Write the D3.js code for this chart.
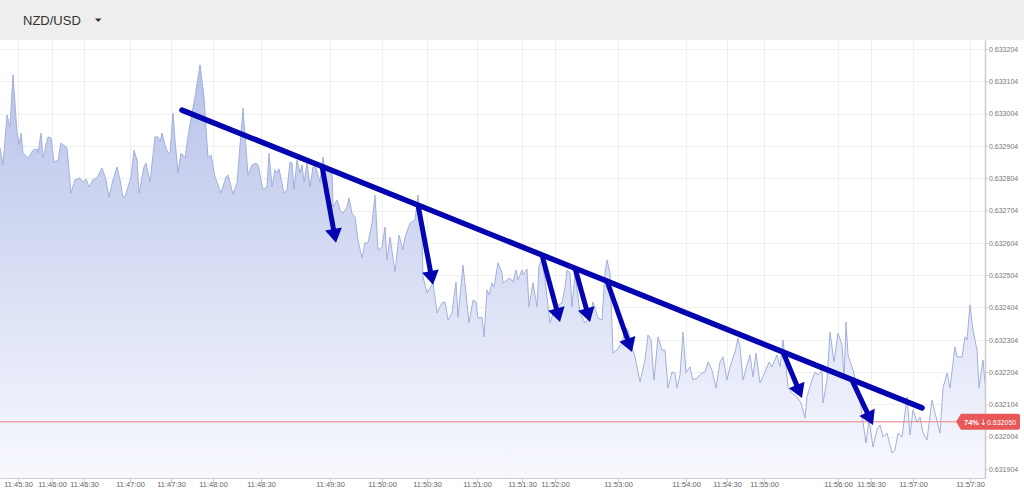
<!DOCTYPE html>
<html>
<head>
<meta charset="utf-8">
<script src="https://cdn.jsdelivr.net/npm/d3@7"></script>
<style>
  html, body { margin: 0; padding: 0; background: #ffffff; }
  svg { display: block; font-family: "Liberation Sans", Arial, sans-serif; }
</style>
</head>
<body>
<svg id="chart" width="1024" height="495"></svg>
<script>
// ---------------- DATA ----------------
const symbol = "NZD/USD";

// tick sequence number (x) and price (y) of each quote
const quoteSeq = [0,3,7,10,13,17,19,21,23,28,33,37,38,41,43,48,51,54,58,61,67,71,75,80,83,86,89,93,97,102,106,109,113,117,120,123,125,131,134,137,139,144,146,150,155,158,160,162,165,168,170,173,175,178,181,185,189,195,200,204,208,211,215,221,226,228,233,237,243,248,252,256,
258,263,267,269,272,275,277,279,284,287,290,292,294,297,300,302,304,307,310,313,316,320,323,325,328,332,333,337,340,343,347,349,352,355,358,362,365,368,372,375,378,382,385,387,390,395,399,403,405,410,415,418,422,423,427,430,433,437,442,445,448,452,456,458,463,467,469,473,476,478,482,484,487,489,492,494,498,502,503,507,510,513,516,518,522,523,527,529,533,537,539,542,545,550,555,562,565,567,570,572,575,580,585,590,593,598,602,605,607,610,613,617,622,625,628,632,635,640,645,648,651,654,658,662,665,668,672,675,677,680,683,686,690,693,697,702,705,708,712,716,720,723,727,730,735,738,740,743,747,750,753,756,760,765,769,772,777,780,783,785,788,792,797,801,805,807,812,815,818,822,823,827,830,834,838,842,844,846,848,853,857,860,863,866,869,873,877,880,883,887,892,895,898,902,907,910,913,917,920,923,927,932,936,940,943,947,950,955,957,962,965,967,970,973,977,979,983,985];

const quotePrice = [0.632898,0.632845,0.633000,0.632963,0.633124,0.632944,0.632907,0.632944,0.632882,0.632867,0.632891,0.632895,0.632882,0.632944,0.632867,0.632932,0.632929,0.632854,0.632860,0.632913,0.632898,0.632758,0.632799,0.632805,0.632792,0.632802,0.632777,0.632799,0.632805,0.632836,0.632799,0.632746,0.632799,0.632839,0.632799,0.632746,0.632746,0.632808,0.632891,0.632860,0.632758,0.632839,0.632851,0.632792,0.632932,0.632932,0.632916,0.632944,0.632907,0.632882,0.632882,0.633006,0.632922,0.632820,0.632882,0.632867,0.632953,0.633056,0.633155,0.633056,0.632867,0.632876,0.632808,0.632758,0.632808,0.632814,0.632755,0.632789,0.633021,0.632814,0.632845,0.632851,
0.632845,0.632768,0.632777,0.632882,0.632777,0.632830,0.632820,0.632833,0.632758,0.632768,0.632854,0.632851,0.632768,0.632860,0.632820,0.632845,0.632792,0.632851,0.632777,0.632839,0.632836,0.632792,0.632870,0.632830,0.632830,0.632823,0.632715,0.632737,0.632706,0.632696,0.632715,0.632743,0.632696,0.632684,0.632613,0.632557,0.632604,0.632604,0.632665,0.632752,0.632582,0.632591,0.632653,0.632551,0.632622,0.632514,0.632628,0.632582,0.632622,0.632665,0.632675,0.632752,0.632634,0.632498,0.632449,0.632464,0.632480,0.632387,0.632418,0.632421,0.632365,0.632387,0.632483,0.632374,0.632535,0.632418,0.632356,0.632427,0.632421,0.632371,0.632374,0.632313,0.632458,0.632443,0.632480,0.632467,0.632542,0.632511,0.632480,0.632489,0.632495,0.632483,0.632520,0.632489,0.632520,0.632505,0.632523,0.632405,0.632480,0.632405,0.632535,0.632551,0.632489,0.632356,0.632405,0.632418,0.632467,0.632520,0.632511,0.632405,0.632511,0.632387,0.632356,0.632374,0.632421,0.632371,0.632365,0.632511,0.632551,0.632511,0.632263,0.632272,0.632294,0.632343,0.632334,0.632282,0.632251,0.632173,0.632241,0.632319,0.632303,0.632179,0.632313,0.632272,0.632272,0.632155,0.632204,0.632201,0.632155,0.632195,0.632328,0.632201,0.632220,0.632179,0.632186,0.632201,0.632204,0.632235,0.632210,0.632155,0.632235,0.632251,0.632179,0.632220,0.632266,0.632309,0.632282,0.632179,0.632226,0.632257,0.632189,0.632263,0.632170,0.632204,0.632235,0.632220,0.632257,0.632220,0.632303,0.632248,0.632158,0.632139,0.632127,0.632108,0.632062,0.632127,0.632179,0.632204,0.632195,0.632210,0.632108,0.632179,0.632328,0.632235,0.632325,0.632288,0.632186,0.632359,0.632257,0.632210,0.632158,0.632117,0.632049,0.631984,0.632056,0.631972,0.632025,0.632040,0.632003,0.632015,0.631953,0.631963,0.632015,0.632003,0.632127,0.632009,0.632087,0.632049,0.632065,0.632015,0.631994,0.632117,0.632065,0.632015,0.632155,0.632201,0.632155,0.632282,0.632251,0.632251,0.632313,0.632303,0.632412,0.632334,0.632272,0.632155,0.632241,0.632170];

// x axis: tick sequence positions and time labels
const timeTickSeq = [18,52,84,130,171,213,261,330,382,427,477,522,555,618,686,727,764,838,871,913,970];
const timeTickLabels = ["11:45:30","11:46:00","11:46:30","11:47:00","11:47:30","11:48:00","11:48:30","11:49:30","11:50:00","11:50:30","11:51:00","11:51:30","11:52:00","11:53:00","11:54:00","11:54:30","11:55:00","11:56:00","11:56:30","11:57:00","11:57:30"];

// y axis ticks
const priceTicks = [0.631904,0.632004,0.632104,0.632204,0.632304,0.632404,0.632504,0.632604,0.632704,0.632804,0.632904,0.633004,0.633104,0.633204];
const priceExtent = [0.631876, 0.633232];
const seqExtent = [0, 985];

// current price marker
const currentPrice = 0.632050;
const currentPct = "74%";

// hand-drawn annotation: trend line and arrows [seqFrom, priceFrom, seqTo, priceTo]
const trendLine = [182, 0.633015, 922, 0.632093];
const arrows = [
  [322, 0.632841, 336, 0.632604],
  [418, 0.632721, 433, 0.632474],
  [542, 0.632566, 560, 0.632359],
  [575, 0.632526, 590, 0.632359],
  [607, 0.632486, 632, 0.632266],
  [783, 0.632266, 802, 0.632124],
  [852, 0.632179, 873, 0.632040]
];

// ---------------- LAYOUT ----------------
const W = 1024, H = 495;
const headerH = 40;
const plot = { left: 0, right: 985, top: 40, bottom: 478 };
const svg = d3.select("#chart");

const x = d3.scaleLinear().domain(seqExtent).range([plot.left, plot.right]);
const y = d3.scaleLinear().domain(priceExtent).range([plot.bottom, plot.top]);

// header
svg.append("rect").attr("x", 0).attr("y", 0).attr("width", W).attr("height", headerH).attr("fill", "#eeeeee");
svg.append("text").attr("x", 23).attr("y", 25).attr("font-size", 13).attr("fill", "#333").text(symbol);
svg.append("path").attr("d", "M95,18.5 L101.5,18.5 L98.25,22 Z").attr("fill", "#333");

// gradient
const defs = svg.append("defs");
const grad = defs.append("linearGradient").attr("id", "areaGrad")
  .attr("gradientUnits", "userSpaceOnUse").attr("x1", 0).attr("x2", 0)
  .attr("y1", plot.top).attr("y2", plot.bottom);
grad.append("stop").attr("offset", "0%").attr("stop-color", "#b3bfe8");
grad.append("stop").attr("offset", "100%").attr("stop-color", "#f8f9fe");

// grid lines
const grid = svg.append("g");
grid.selectAll("line.h").data(priceTicks).join("line")
  .attr("x1", plot.left).attr("x2", plot.right)
  .attr("y1", d => Math.round(y(d)) + 0.5).attr("y2", d => Math.round(y(d)) + 0.5)
  .attr("stroke", "#efefef").attr("stroke-width", 1);
grid.selectAll("line.v").data(timeTickSeq).join("line")
  .attr("y1", plot.top).attr("y2", plot.bottom)
  .attr("x1", d => Math.round(x(d)) + 0.5).attr("x2", d => Math.round(x(d)) + 0.5)
  .attr("stroke", "#efefef").attr("stroke-width", 1);

// area + line
const quotes = quoteSeq.map((s, i) => ({ s, p: quotePrice[i] }));
const area = d3.area().x(d => x(d.s)).y0(plot.bottom).y1(d => y(d.p)).curve(d3.curveLinear);
const line = d3.line().x(d => x(d.s)).y(d => y(d.p)).curve(d3.curveLinear);
svg.append("path").datum(quotes).attr("d", area).attr("fill", "url(#areaGrad)");
svg.append("path").datum(quotes).attr("d", line).attr("fill", "none")
  .attr("stroke", "#a3b0dc").attr("stroke-width", 1);

// current price line
svg.append("line").attr("x1", plot.left).attr("x2", plot.right)
  .attr("y1", y(currentPrice)).attr("y2", y(currentPrice))
  .attr("stroke", "#ee8080").attr("stroke-width", 1);

// axes
const xAxis = d3.axisBottom(x).tickValues(timeTickSeq)
  .tickFormat((d, i) => timeTickLabels[i]).tickSize(5).tickSizeOuter(0);
const gx = svg.append("g").attr("transform", `translate(0,${plot.bottom})`).call(xAxis);
gx.select(".domain").attr("stroke", "#cccccc");
gx.selectAll(".tick line").attr("stroke", "#cccccc");
gx.selectAll(".tick text").attr("fill", "#666").attr("font-size", 7.5)
  .attr("font-family", "Liberation Sans, Arial, sans-serif").attr("dy", "0.6em").attr("y", 4);

const yAxis = d3.axisRight(y).tickValues(priceTicks).tickFormat(d3.format(".6f")).tickSize(3).tickSizeOuter(0);
const gy = svg.append("g").attr("transform", `translate(${plot.right},0)`).call(yAxis);
gy.select(".domain").attr("stroke", "#cccccc").attr("stroke-width", 1.5);
gy.selectAll(".tick line").attr("stroke", "#cccccc");
gy.selectAll(".tick text").attr("fill", "#777").attr("font-size", 7)
  .attr("font-family", "Liberation Sans, Arial, sans-serif").attr("x", 4);

// current price label
const cy = y(currentPrice);
const lbl = svg.append("g");
lbl.append("path")
  .attr("d", `M${plot.right - 29},${cy} L${plot.right - 24},${cy - 8} L${plot.right + 33},${cy - 8} Q${plot.right + 35},${cy - 8} ${plot.right + 35},${cy - 6} L${plot.right + 35},${cy + 6} Q${plot.right + 35},${cy + 8} ${plot.right + 33},${cy + 8} L${plot.right - 24},${cy + 8} Z`)
  .attr("fill", "#e95858");
lbl.append("text").attr("x", plot.right - 21).attr("y", cy + 3).attr("font-size", 7.5)
  .attr("font-weight", "bold").attr("fill", "#fff").text(currentPct);
lbl.append("text").attr("x", plot.right - 5).attr("y", cy + 3).attr("font-size", 8)
  .attr("font-family", "DejaVu Sans, sans-serif").attr("fill", "#fff").text("\u2193");
lbl.append("text").attr("x", plot.right + 2).attr("y", cy + 3).attr("font-size", 7)
  .attr("fill", "#fff").text(d3.format(".6f")(currentPrice));

// annotation
const annColor = "#0404b0";
const ann = svg.append("g");
ann.append("line")
  .attr("x1", x(trendLine[0])).attr("y1", y(trendLine[1]))
  .attr("x2", x(trendLine[2])).attr("y2", y(trendLine[3]))
  .attr("stroke", annColor).attr("stroke-width", 5.5).attr("stroke-linecap", "round");

arrows.forEach(a => {
  const x0 = x(a[0]), y0 = y(a[1]), x1 = x(a[2]), y1 = y(a[3]);
  const dx = x1 - x0, dy = y1 - y0, len = Math.hypot(dx, dy);
  const ux = dx / len, uy = dy / len;
  const headL = 14, headW = 8.5;
  const bx = x1 - ux * headL, by = y1 - uy * headL;
  ann.append("line").attr("x1", x0).attr("y1", y0).attr("x2", bx + ux * 2).attr("y2", by + uy * 2)
    .attr("stroke", annColor).attr("stroke-width", 5);
  ann.append("path")
    .attr("d", `M${x1},${y1} L${bx - uy * headW},${by + ux * headW} L${bx + uy * headW},${by - ux * headW} Z`)
    .attr("fill", annColor);
});
</script>
</body>
</html>
